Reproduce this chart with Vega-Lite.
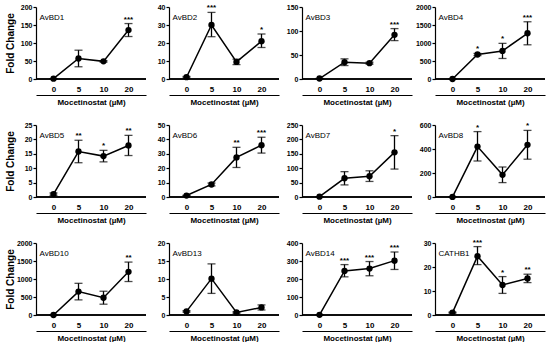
{
"$schema": "https://vega.github.io/schema/vega-lite/v6.json",
"padding": {"left": 4, "top": 3, "right": 0, "bottom": 0},
"bounds": "flush",
"columns": 4,
"spacing": {"row": 46, "column": 23},
"datasets": {"d": [
{"gene":"AvBD1","dose":"0","mean":1,"lo":1,"hi":1,"sig":""},
{"gene":"AvBD1","dose":"5","mean":57,"lo":34,"hi":80,"sig":""},
{"gene":"AvBD1","dose":"10","mean":49,"lo":47,"hi":51,"sig":""},
{"gene":"AvBD1","dose":"20","mean":136,"lo":118,"hi":154,"sig":"***"},
{"gene":"AvBD2","dose":"0","mean":1,"lo":0.6,"hi":1.4,"sig":""},
{"gene":"AvBD2","dose":"5","mean":30,"lo":23.5,"hi":37,"sig":"***"},
{"gene":"AvBD2","dose":"10","mean":9.5,"lo":8,"hi":11,"sig":""},
{"gene":"AvBD2","dose":"20","mean":21,"lo":17.5,"hi":25,"sig":"*"},
{"gene":"AvBD3","dose":"0","mean":1,"lo":1,"hi":1,"sig":""},
{"gene":"AvBD3","dose":"5","mean":35,"lo":28,"hi":42,"sig":""},
{"gene":"AvBD3","dose":"10","mean":33,"lo":31,"hi":35,"sig":""},
{"gene":"AvBD3","dose":"20","mean":92,"lo":80,"hi":105,"sig":"***"},
{"gene":"AvBD4","dose":"0","mean":1,"lo":1,"hi":1,"sig":""},
{"gene":"AvBD4","dose":"5","mean":680,"lo":650,"hi":710,"sig":"*"},
{"gene":"AvBD4","dose":"10","mean":780,"lo":570,"hi":990,"sig":"*"},
{"gene":"AvBD4","dose":"20","mean":1270,"lo":950,"hi":1590,"sig":"***"},
{"gene":"AvBD5","dose":"0","mean":1,"lo":0.6,"hi":1.4,"sig":""},
{"gene":"AvBD5","dose":"5","mean":15.8,"lo":11.9,"hi":19.7,"sig":"**"},
{"gene":"AvBD5","dose":"10","mean":14.2,"lo":12.2,"hi":16.2,"sig":"*"},
{"gene":"AvBD5","dose":"20","mean":17.9,"lo":14.4,"hi":21.4,"sig":"**"},
{"gene":"AvBD6","dose":"0","mean":1,"lo":0.8,"hi":1.2,"sig":""},
{"gene":"AvBD6","dose":"5","mean":8.7,"lo":7.7,"hi":9.7,"sig":""},
{"gene":"AvBD6","dose":"10","mean":27.5,"lo":20.5,"hi":34.5,"sig":"**"},
{"gene":"AvBD6","dose":"20","mean":36,"lo":30.5,"hi":41.5,"sig":"***"},
{"gene":"AvBD7","dose":"0","mean":1,"lo":1,"hi":1,"sig":""},
{"gene":"AvBD7","dose":"5","mean":65,"lo":42,"hi":88,"sig":""},
{"gene":"AvBD7","dose":"10","mean":72,"lo":54,"hi":91,"sig":""},
{"gene":"AvBD7","dose":"20","mean":155,"lo":97,"hi":213,"sig":"*"},
{"gene":"AvBD8","dose":"0","mean":1,"lo":1,"hi":1,"sig":""},
{"gene":"AvBD8","dose":"5","mean":420,"lo":300,"hi":545,"sig":"*"},
{"gene":"AvBD8","dose":"10","mean":185,"lo":120,"hi":250,"sig":""},
{"gene":"AvBD8","dose":"20","mean":435,"lo":315,"hi":555,"sig":"*"},
{"gene":"AvBD10","dose":"0","mean":1,"lo":1,"hi":1,"sig":""},
{"gene":"AvBD10","dose":"5","mean":650,"lo":420,"hi":880,"sig":""},
{"gene":"AvBD10","dose":"10","mean":480,"lo":300,"hi":660,"sig":""},
{"gene":"AvBD10","dose":"20","mean":1200,"lo":930,"hi":1470,"sig":"**"},
{"gene":"AvBD13","dose":"0","mean":1,"lo":0.8,"hi":1.2,"sig":""},
{"gene":"AvBD13","dose":"5","mean":10.1,"lo":6,"hi":14.2,"sig":""},
{"gene":"AvBD13","dose":"10","mean":0.7,"lo":0.5,"hi":0.9,"sig":""},
{"gene":"AvBD13","dose":"20","mean":2.1,"lo":1.4,"hi":2.8,"sig":""},
{"gene":"AvBD14","dose":"0","mean":1,"lo":1,"hi":1,"sig":""},
{"gene":"AvBD14","dose":"5","mean":245,"lo":212,"hi":280,"sig":"***"},
{"gene":"AvBD14","dose":"10","mean":258,"lo":218,"hi":297,"sig":"***"},
{"gene":"AvBD14","dose":"20","mean":302,"lo":253,"hi":350,"sig":"***"},
{"gene":"CATHB1","dose":"0","mean":1,"lo":0.8,"hi":1.2,"sig":""},
{"gene":"CATHB1","dose":"5","mean":24.5,"lo":21,"hi":28.5,"sig":"***"},
{"gene":"CATHB1","dose":"10","mean":12.5,"lo":9,"hi":16,"sig":"*"},
{"gene":"CATHB1","dose":"20","mean":15.2,"lo":13.5,"hi":17,"sig":"**"}
]},
"data": {"name": "d"},
"concat": [
{"width": 110, "height": 72, "transform": [{"filter": "datum.gene === 'AvBD1'"}], "layer": [
 {"mark": {"type": "rule", "strokeWidth": 1.2}, "encoding": {"y": {"datum": 0, "type": "quantitative", "scale": {"domain": [0, 200], "nice": false}, "axis": {"values": [0,50,100,150,200], "title": "Fold Change"}}}},
 {"encoding": {"x": {"field": "dose", "type": "ordinal", "scale": {"type": "point", "padding": 0.7, "domain": ["0","5","10","20"]}, "axis": {"title": "Mocetinostat (µM)"}}}, "layer": [
  {"mark": {"type": "errorbar", "ticks": true, "size": 8, "thickness": 1.3, "color": "#000"}, "encoding": {"y": {"field": "lo", "type": "quantitative", "axis": {"values": [0,50,100,150,200], "title": "Fold Change"}}, "y2": {"field": "hi"}}},
  {"mark": {"type": "line", "strokeWidth": 1.5, "point": {"filled": true, "size": 40, "color": "#000"}}, "encoding": {"y": {"field": "mean", "type": "quantitative", "axis": {"values": [0,50,100,150,200], "title": "Fold Change"}}}},
  {"mark": {"type": "text", "fontSize": 8, "fontWeight": "bold", "dy": -2, "baseline": "alphabetic"}, "encoding": {"y": {"field": "hi", "type": "quantitative", "axis": {"values": [0,50,100,150,200], "title": "Fold Change"}}, "text": {"field": "sig"}}},
  {"transform": [{"filter": "datum.dose === '0'"}], "mark": {"type": "text", "fontSize": 8, "align": "left", "baseline": "middle", "dx": -14, "dy": 11}, "encoding": {"x": {"datum": "0", "type": "ordinal"}, "y": {"datum": 200, "type": "quantitative", "axis": {"values": [0,50,100,150,200], "title": "Fold Change"}}, "text": {"datum": "AvBD1"}}}
 ]}
]},
{"width": 110, "height": 72, "transform": [{"filter": "datum.gene === 'AvBD2'"}], "layer": [
 {"mark": {"type": "rule", "strokeWidth": 1.2}, "encoding": {"y": {"datum": 0, "type": "quantitative", "scale": {"domain": [0, 40], "nice": false}, "axis": {"values": [0,10,20,30,40], "title": null}}}},
 {"encoding": {"x": {"field": "dose", "type": "ordinal", "scale": {"type": "point", "padding": 0.7, "domain": ["0","5","10","20"]}, "axis": {"title": "Mocetinostat (µM)"}}}, "layer": [
  {"mark": {"type": "errorbar", "ticks": true, "size": 8, "thickness": 1.3, "color": "#000"}, "encoding": {"y": {"field": "lo", "type": "quantitative", "axis": {"values": [0,10,20,30,40], "title": null}}, "y2": {"field": "hi"}}},
  {"mark": {"type": "line", "strokeWidth": 1.5, "point": {"filled": true, "size": 40, "color": "#000"}}, "encoding": {"y": {"field": "mean", "type": "quantitative", "axis": {"values": [0,10,20,30,40], "title": null}}}},
  {"mark": {"type": "text", "fontSize": 8, "fontWeight": "bold", "dy": -2, "baseline": "alphabetic"}, "encoding": {"y": {"field": "hi", "type": "quantitative", "axis": {"values": [0,10,20,30,40], "title": null}}, "text": {"field": "sig"}}},
  {"transform": [{"filter": "datum.dose === '0'"}], "mark": {"type": "text", "fontSize": 8, "align": "left", "baseline": "middle", "dx": -14, "dy": 11}, "encoding": {"x": {"datum": "0", "type": "ordinal"}, "y": {"datum": 40, "type": "quantitative", "axis": {"values": [0,10,20,30,40], "title": null}}, "text": {"datum": "AvBD2"}}}
 ]}
]},
{"width": 110, "height": 72, "transform": [{"filter": "datum.gene === 'AvBD3'"}], "layer": [
 {"mark": {"type": "rule", "strokeWidth": 1.2}, "encoding": {"y": {"datum": 0, "type": "quantitative", "scale": {"domain": [0, 150], "nice": false}, "axis": {"values": [0,50,100,150], "title": null}}}},
 {"encoding": {"x": {"field": "dose", "type": "ordinal", "scale": {"type": "point", "padding": 0.7, "domain": ["0","5","10","20"]}, "axis": {"title": "Mocetinostat (µM)"}}}, "layer": [
  {"mark": {"type": "errorbar", "ticks": true, "size": 8, "thickness": 1.3, "color": "#000"}, "encoding": {"y": {"field": "lo", "type": "quantitative", "axis": {"values": [0,50,100,150], "title": null}}, "y2": {"field": "hi"}}},
  {"mark": {"type": "line", "strokeWidth": 1.5, "point": {"filled": true, "size": 40, "color": "#000"}}, "encoding": {"y": {"field": "mean", "type": "quantitative", "axis": {"values": [0,50,100,150], "title": null}}}},
  {"mark": {"type": "text", "fontSize": 8, "fontWeight": "bold", "dy": -2, "baseline": "alphabetic"}, "encoding": {"y": {"field": "hi", "type": "quantitative", "axis": {"values": [0,50,100,150], "title": null}}, "text": {"field": "sig"}}},
  {"transform": [{"filter": "datum.dose === '0'"}], "mark": {"type": "text", "fontSize": 8, "align": "left", "baseline": "middle", "dx": -14, "dy": 11}, "encoding": {"x": {"datum": "0", "type": "ordinal"}, "y": {"datum": 150, "type": "quantitative", "axis": {"values": [0,50,100,150], "title": null}}, "text": {"datum": "AvBD3"}}}
 ]}
]},
{"width": 110, "height": 72, "transform": [{"filter": "datum.gene === 'AvBD4'"}], "layer": [
 {"mark": {"type": "rule", "strokeWidth": 1.2}, "encoding": {"y": {"datum": 0, "type": "quantitative", "scale": {"domain": [0, 2000], "nice": false}, "axis": {"values": [0,500,1000,1500,2000], "title": null}}}},
 {"encoding": {"x": {"field": "dose", "type": "ordinal", "scale": {"type": "point", "padding": 0.7, "domain": ["0","5","10","20"]}, "axis": {"title": "Mocetinostat (µM)"}}}, "layer": [
  {"mark": {"type": "errorbar", "ticks": true, "size": 8, "thickness": 1.3, "color": "#000"}, "encoding": {"y": {"field": "lo", "type": "quantitative", "axis": {"values": [0,500,1000,1500,2000], "title": null}}, "y2": {"field": "hi"}}},
  {"mark": {"type": "line", "strokeWidth": 1.5, "point": {"filled": true, "size": 40, "color": "#000"}}, "encoding": {"y": {"field": "mean", "type": "quantitative", "axis": {"values": [0,500,1000,1500,2000], "title": null}}}},
  {"mark": {"type": "text", "fontSize": 8, "fontWeight": "bold", "dy": -2, "baseline": "alphabetic"}, "encoding": {"y": {"field": "hi", "type": "quantitative", "axis": {"values": [0,500,1000,1500,2000], "title": null}}, "text": {"field": "sig"}}},
  {"transform": [{"filter": "datum.dose === '0'"}], "mark": {"type": "text", "fontSize": 8, "align": "left", "baseline": "middle", "dx": -14, "dy": 11}, "encoding": {"x": {"datum": "0", "type": "ordinal"}, "y": {"datum": 2000, "type": "quantitative", "axis": {"values": [0,500,1000,1500,2000], "title": null}}, "text": {"datum": "AvBD4"}}}
 ]}
]},
{"width": 110, "height": 72, "transform": [{"filter": "datum.gene === 'AvBD5'"}], "layer": [
 {"mark": {"type": "rule", "strokeWidth": 1.2}, "encoding": {"y": {"datum": 0, "type": "quantitative", "scale": {"domain": [0, 25], "nice": false}, "axis": {"values": [0,5,10,15,20,25], "title": "Fold Change"}}}},
 {"encoding": {"x": {"field": "dose", "type": "ordinal", "scale": {"type": "point", "padding": 0.7, "domain": ["0","5","10","20"]}, "axis": {"title": "Mocetinostat (µM)"}}}, "layer": [
  {"mark": {"type": "errorbar", "ticks": true, "size": 8, "thickness": 1.3, "color": "#000"}, "encoding": {"y": {"field": "lo", "type": "quantitative", "axis": {"values": [0,5,10,15,20,25], "title": "Fold Change"}}, "y2": {"field": "hi"}}},
  {"mark": {"type": "line", "strokeWidth": 1.5, "point": {"filled": true, "size": 40, "color": "#000"}}, "encoding": {"y": {"field": "mean", "type": "quantitative", "axis": {"values": [0,5,10,15,20,25], "title": "Fold Change"}}}},
  {"mark": {"type": "text", "fontSize": 8, "fontWeight": "bold", "dy": -2, "baseline": "alphabetic"}, "encoding": {"y": {"field": "hi", "type": "quantitative", "axis": {"values": [0,5,10,15,20,25], "title": "Fold Change"}}, "text": {"field": "sig"}}},
  {"transform": [{"filter": "datum.dose === '0'"}], "mark": {"type": "text", "fontSize": 8, "align": "left", "baseline": "middle", "dx": -14, "dy": 11}, "encoding": {"x": {"datum": "0", "type": "ordinal"}, "y": {"datum": 25, "type": "quantitative", "axis": {"values": [0,5,10,15,20,25], "title": "Fold Change"}}, "text": {"datum": "AvBD5"}}}
 ]}
]},
{"width": 110, "height": 72, "transform": [{"filter": "datum.gene === 'AvBD6'"}], "layer": [
 {"mark": {"type": "rule", "strokeWidth": 1.2}, "encoding": {"y": {"datum": 0, "type": "quantitative", "scale": {"domain": [0, 50], "nice": false}, "axis": {"values": [0,10,20,30,40,50], "title": null}}}},
 {"encoding": {"x": {"field": "dose", "type": "ordinal", "scale": {"type": "point", "padding": 0.7, "domain": ["0","5","10","20"]}, "axis": {"title": "Mocetinostat (µM)"}}}, "layer": [
  {"mark": {"type": "errorbar", "ticks": true, "size": 8, "thickness": 1.3, "color": "#000"}, "encoding": {"y": {"field": "lo", "type": "quantitative", "axis": {"values": [0,10,20,30,40,50], "title": null}}, "y2": {"field": "hi"}}},
  {"mark": {"type": "line", "strokeWidth": 1.5, "point": {"filled": true, "size": 40, "color": "#000"}}, "encoding": {"y": {"field": "mean", "type": "quantitative", "axis": {"values": [0,10,20,30,40,50], "title": null}}}},
  {"mark": {"type": "text", "fontSize": 8, "fontWeight": "bold", "dy": -2, "baseline": "alphabetic"}, "encoding": {"y": {"field": "hi", "type": "quantitative", "axis": {"values": [0,10,20,30,40,50], "title": null}}, "text": {"field": "sig"}}},
  {"transform": [{"filter": "datum.dose === '0'"}], "mark": {"type": "text", "fontSize": 8, "align": "left", "baseline": "middle", "dx": -14, "dy": 11}, "encoding": {"x": {"datum": "0", "type": "ordinal"}, "y": {"datum": 50, "type": "quantitative", "axis": {"values": [0,10,20,30,40,50], "title": null}}, "text": {"datum": "AvBD6"}}}
 ]}
]},
{"width": 110, "height": 72, "transform": [{"filter": "datum.gene === 'AvBD7'"}], "layer": [
 {"mark": {"type": "rule", "strokeWidth": 1.2}, "encoding": {"y": {"datum": 0, "type": "quantitative", "scale": {"domain": [0, 250], "nice": false}, "axis": {"values": [0,50,100,150,200,250], "title": null}}}},
 {"encoding": {"x": {"field": "dose", "type": "ordinal", "scale": {"type": "point", "padding": 0.7, "domain": ["0","5","10","20"]}, "axis": {"title": "Mocetinostat (µM)"}}}, "layer": [
  {"mark": {"type": "errorbar", "ticks": true, "size": 8, "thickness": 1.3, "color": "#000"}, "encoding": {"y": {"field": "lo", "type": "quantitative", "axis": {"values": [0,50,100,150,200,250], "title": null}}, "y2": {"field": "hi"}}},
  {"mark": {"type": "line", "strokeWidth": 1.5, "point": {"filled": true, "size": 40, "color": "#000"}}, "encoding": {"y": {"field": "mean", "type": "quantitative", "axis": {"values": [0,50,100,150,200,250], "title": null}}}},
  {"mark": {"type": "text", "fontSize": 8, "fontWeight": "bold", "dy": -2, "baseline": "alphabetic"}, "encoding": {"y": {"field": "hi", "type": "quantitative", "axis": {"values": [0,50,100,150,200,250], "title": null}}, "text": {"field": "sig"}}},
  {"transform": [{"filter": "datum.dose === '0'"}], "mark": {"type": "text", "fontSize": 8, "align": "left", "baseline": "middle", "dx": -14, "dy": 11}, "encoding": {"x": {"datum": "0", "type": "ordinal"}, "y": {"datum": 250, "type": "quantitative", "axis": {"values": [0,50,100,150,200,250], "title": null}}, "text": {"datum": "AvBD7"}}}
 ]}
]},
{"width": 110, "height": 72, "transform": [{"filter": "datum.gene === 'AvBD8'"}], "layer": [
 {"mark": {"type": "rule", "strokeWidth": 1.2}, "encoding": {"y": {"datum": 0, "type": "quantitative", "scale": {"domain": [0, 600], "nice": false}, "axis": {"values": [0,200,400,600], "title": null}}}},
 {"encoding": {"x": {"field": "dose", "type": "ordinal", "scale": {"type": "point", "padding": 0.7, "domain": ["0","5","10","20"]}, "axis": {"title": "Mocetinostat (µM)"}}}, "layer": [
  {"mark": {"type": "errorbar", "ticks": true, "size": 8, "thickness": 1.3, "color": "#000"}, "encoding": {"y": {"field": "lo", "type": "quantitative", "axis": {"values": [0,200,400,600], "title": null}}, "y2": {"field": "hi"}}},
  {"mark": {"type": "line", "strokeWidth": 1.5, "point": {"filled": true, "size": 40, "color": "#000"}}, "encoding": {"y": {"field": "mean", "type": "quantitative", "axis": {"values": [0,200,400,600], "title": null}}}},
  {"mark": {"type": "text", "fontSize": 8, "fontWeight": "bold", "dy": -2, "baseline": "alphabetic"}, "encoding": {"y": {"field": "hi", "type": "quantitative", "axis": {"values": [0,200,400,600], "title": null}}, "text": {"field": "sig"}}},
  {"transform": [{"filter": "datum.dose === '0'"}], "mark": {"type": "text", "fontSize": 8, "align": "left", "baseline": "middle", "dx": -14, "dy": 11}, "encoding": {"x": {"datum": "0", "type": "ordinal"}, "y": {"datum": 600, "type": "quantitative", "axis": {"values": [0,200,400,600], "title": null}}, "text": {"datum": "AvBD8"}}}
 ]}
]},
{"width": 110, "height": 72, "transform": [{"filter": "datum.gene === 'AvBD10'"}], "layer": [
 {"mark": {"type": "rule", "strokeWidth": 1.2}, "encoding": {"y": {"datum": 0, "type": "quantitative", "scale": {"domain": [0, 2000], "nice": false}, "axis": {"values": [0,500,1000,1500,2000], "title": "Fold Change"}}}},
 {"encoding": {"x": {"field": "dose", "type": "ordinal", "scale": {"type": "point", "padding": 0.7, "domain": ["0","5","10","20"]}, "axis": {"title": "Mocetinostat (µM)"}}}, "layer": [
  {"mark": {"type": "errorbar", "ticks": true, "size": 8, "thickness": 1.3, "color": "#000"}, "encoding": {"y": {"field": "lo", "type": "quantitative", "axis": {"values": [0,500,1000,1500,2000], "title": "Fold Change"}}, "y2": {"field": "hi"}}},
  {"mark": {"type": "line", "strokeWidth": 1.5, "point": {"filled": true, "size": 40, "color": "#000"}}, "encoding": {"y": {"field": "mean", "type": "quantitative", "axis": {"values": [0,500,1000,1500,2000], "title": "Fold Change"}}}},
  {"mark": {"type": "text", "fontSize": 8, "fontWeight": "bold", "dy": -2, "baseline": "alphabetic"}, "encoding": {"y": {"field": "hi", "type": "quantitative", "axis": {"values": [0,500,1000,1500,2000], "title": "Fold Change"}}, "text": {"field": "sig"}}},
  {"transform": [{"filter": "datum.dose === '0'"}], "mark": {"type": "text", "fontSize": 8, "align": "left", "baseline": "middle", "dx": -14, "dy": 11}, "encoding": {"x": {"datum": "0", "type": "ordinal"}, "y": {"datum": 2000, "type": "quantitative", "axis": {"values": [0,500,1000,1500,2000], "title": "Fold Change"}}, "text": {"datum": "AvBD10"}}}
 ]}
]},
{"width": 110, "height": 72, "transform": [{"filter": "datum.gene === 'AvBD13'"}], "layer": [
 {"mark": {"type": "rule", "strokeWidth": 1.2}, "encoding": {"y": {"datum": 0, "type": "quantitative", "scale": {"domain": [0, 20], "nice": false}, "axis": {"values": [0,5,10,15,20], "title": null}}}},
 {"encoding": {"x": {"field": "dose", "type": "ordinal", "scale": {"type": "point", "padding": 0.7, "domain": ["0","5","10","20"]}, "axis": {"title": "Mocetinostat (µM)"}}}, "layer": [
  {"mark": {"type": "errorbar", "ticks": true, "size": 8, "thickness": 1.3, "color": "#000"}, "encoding": {"y": {"field": "lo", "type": "quantitative", "axis": {"values": [0,5,10,15,20], "title": null}}, "y2": {"field": "hi"}}},
  {"mark": {"type": "line", "strokeWidth": 1.5, "point": {"filled": true, "size": 40, "color": "#000"}}, "encoding": {"y": {"field": "mean", "type": "quantitative", "axis": {"values": [0,5,10,15,20], "title": null}}}},
  {"mark": {"type": "text", "fontSize": 8, "fontWeight": "bold", "dy": -2, "baseline": "alphabetic"}, "encoding": {"y": {"field": "hi", "type": "quantitative", "axis": {"values": [0,5,10,15,20], "title": null}}, "text": {"field": "sig"}}},
  {"transform": [{"filter": "datum.dose === '0'"}], "mark": {"type": "text", "fontSize": 8, "align": "left", "baseline": "middle", "dx": -14, "dy": 11}, "encoding": {"x": {"datum": "0", "type": "ordinal"}, "y": {"datum": 20, "type": "quantitative", "axis": {"values": [0,5,10,15,20], "title": null}}, "text": {"datum": "AvBD13"}}}
 ]}
]},
{"width": 110, "height": 72, "transform": [{"filter": "datum.gene === 'AvBD14'"}], "layer": [
 {"mark": {"type": "rule", "strokeWidth": 1.2}, "encoding": {"y": {"datum": 0, "type": "quantitative", "scale": {"domain": [0, 400], "nice": false}, "axis": {"values": [0,100,200,300,400], "title": null}}}},
 {"encoding": {"x": {"field": "dose", "type": "ordinal", "scale": {"type": "point", "padding": 0.7, "domain": ["0","5","10","20"]}, "axis": {"title": "Mocetinostat (µM)"}}}, "layer": [
  {"mark": {"type": "errorbar", "ticks": true, "size": 8, "thickness": 1.3, "color": "#000"}, "encoding": {"y": {"field": "lo", "type": "quantitative", "axis": {"values": [0,100,200,300,400], "title": null}}, "y2": {"field": "hi"}}},
  {"mark": {"type": "line", "strokeWidth": 1.5, "point": {"filled": true, "size": 40, "color": "#000"}}, "encoding": {"y": {"field": "mean", "type": "quantitative", "axis": {"values": [0,100,200,300,400], "title": null}}}},
  {"mark": {"type": "text", "fontSize": 8, "fontWeight": "bold", "dy": -2, "baseline": "alphabetic"}, "encoding": {"y": {"field": "hi", "type": "quantitative", "axis": {"values": [0,100,200,300,400], "title": null}}, "text": {"field": "sig"}}},
  {"transform": [{"filter": "datum.dose === '0'"}], "mark": {"type": "text", "fontSize": 8, "align": "left", "baseline": "middle", "dx": -14, "dy": 11}, "encoding": {"x": {"datum": "0", "type": "ordinal"}, "y": {"datum": 400, "type": "quantitative", "axis": {"values": [0,100,200,300,400], "title": null}}, "text": {"datum": "AvBD14"}}}
 ]}
]},
{"width": 110, "height": 72, "transform": [{"filter": "datum.gene === 'CATHB1'"}], "layer": [
 {"mark": {"type": "rule", "strokeWidth": 1.2}, "encoding": {"y": {"datum": 0, "type": "quantitative", "scale": {"domain": [0, 30], "nice": false}, "axis": {"values": [0,10,20,30], "title": null}}}},
 {"encoding": {"x": {"field": "dose", "type": "ordinal", "scale": {"type": "point", "padding": 0.7, "domain": ["0","5","10","20"]}, "axis": {"title": "Mocetinostat (µM)"}}}, "layer": [
  {"mark": {"type": "errorbar", "ticks": true, "size": 8, "thickness": 1.3, "color": "#000"}, "encoding": {"y": {"field": "lo", "type": "quantitative", "axis": {"values": [0,10,20,30], "title": null}}, "y2": {"field": "hi"}}},
  {"mark": {"type": "line", "strokeWidth": 1.5, "point": {"filled": true, "size": 40, "color": "#000"}}, "encoding": {"y": {"field": "mean", "type": "quantitative", "axis": {"values": [0,10,20,30], "title": null}}}},
  {"mark": {"type": "text", "fontSize": 8, "fontWeight": "bold", "dy": -2, "baseline": "alphabetic"}, "encoding": {"y": {"field": "hi", "type": "quantitative", "axis": {"values": [0,10,20,30], "title": null}}, "text": {"field": "sig"}}},
  {"transform": [{"filter": "datum.dose === '0'"}], "mark": {"type": "text", "fontSize": 8, "align": "left", "baseline": "middle", "dx": -14, "dy": 11}, "encoding": {"x": {"datum": "0", "type": "ordinal"}, "y": {"datum": 30, "type": "quantitative", "axis": {"values": [0,10,20,30], "title": null}}, "text": {"datum": "CATHB1"}}}
 ]}
]}
],
"config": {
 "view": {"stroke": null},
 "font": "Liberation Sans",
 "mark": {"color": "#000"},
 "axis": {"grid": false, "domainColor": "#000", "tickColor": "#000", "labelColor": "#000", "titleColor": "#000", "labelFontWeight": "bold", "titleFontWeight": "bold", "domainWidth": 1.2, "tickWidth": 1.2, "labelFont": "Liberation Sans", "titleFont": "Liberation Sans"},
 "axisY": {"tickSize": 3, "labelPadding": 1, "labelFontSize": 7, "titleFontSize": 10, "titlePadding": 3, "minExtent": 18, "maxExtent": 18, "format": "d"},
 "axisX": {"offset": 16, "ticks": false, "tickSize": 0, "labelPadding": -6, "labelBaseline": "middle", "labelAngle": 0, "labelFontSize": 8, "titleFontSize": 8, "titlePadding": 3, "minExtent": 0}
}
}
